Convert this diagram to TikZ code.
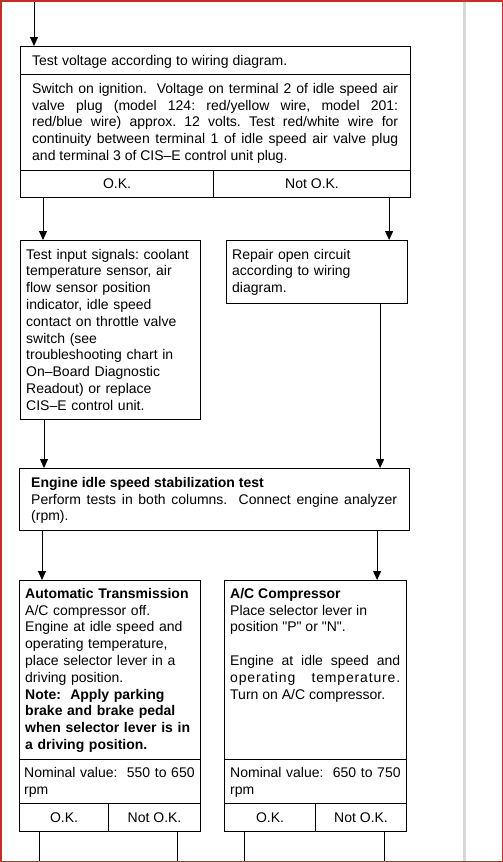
\documentclass[tikz,border=0pt]{standalone}
\usepackage{fontspec}
\setmainfont{Liberation Sans}
\usetikzlibrary{arrows.meta}
\definecolor{edgered}{RGB}{200,45,45}
\definecolor{pagegray}{RGB}{215,215,215}
\tikzset{
  frame/.style={draw, line width=1.1pt, inner sep=0pt, anchor=north west},
  cell/.style={frame, font=\fontsize{14}{16.8}\selectfont},
  txt/.style={inner sep=0pt, anchor=base west, font=\fontsize{14}{16.8}\selectfont\frenchspacing},
  arr/.style={line width=0.9pt, -{Triangle[width=8pt,length=9pt]}},
  wire/.style={line width=0.9pt}
}
\begin{document}
\begin{tikzpicture}[x=1pt,y=-1pt]
\useasboundingbox (0,0) rectangle (503,862);
\fill[pagegray] (462.5,0) rectangle (466,862);
\coordinate (in) at (34,0);
\coordinate (bot) at (0,862);

\node[frame, minimum width=390pt, minimum height=28pt] (volt) at (20,46) {};
\node[frame, minimum width=390pt, minimum height=96pt] (voltbody) at (20,74) {};
\node[cell, minimum width=193pt, minimum height=27pt] (voltok) at (20,170) {O.K.};
\node[cell, minimum width=197pt, minimum height=27pt] (voltnok) at (213,170) {Not O.K.};
\node[txt] (volttxt) at (32,65) {\makebox[255pt][s]{Test voltage according to wiring diagram.}};
\node[txt, text width=366pt, align=justify] (voltbodytxt) at (32,93.3) {Switch on ignition.\ \ Voltage on terminal 2 of idle speed air\linebreak valve plug (model 124: red/yellow wire, model 201:\linebreak red/blue wire) approx. 12 volts. Test red/white wire for\linebreak continuity between terminal 1 of idle speed air valve plug\linebreak and terminal 3 of CIS--E control unit plug.};

\node[frame, minimum width=180pt, minimum height=179pt] (sig) at (20,240) {};
\node[txt, text width=172pt, align=left] (sigtxt) at (26,259) {Test input signals: coolant\\ temperature sensor, air\\ flow sensor position\\ indicator, idle speed\\ contact on throttle valve\\ switch (see\\ troubleshooting chart in\\ On--Board Diagnostic\\ Readout) or replace\\ CIS--E control unit.};
\node[frame, minimum width=181pt, minimum height=63pt] (repair) at (226,240) {};
\node[txt, text width=172pt, align=left] (repairtxt) at (232,259) {Repair open circuit\\ according to wiring\\ diagram.};

\node[frame, minimum width=390pt, minimum height=62pt] (eng) at (19,468) {};
\node[txt, text width=366pt, align=justify] (engtxt) at (31,487.3) {{\bfseries Engine idle speed stabilization test}\\ Perform tests in both columns.\ \ Connect engine analyzer\linebreak (rpm).};

\node[frame, minimum width=181pt, minimum height=179pt] (auto) at (19,580) {};
\node[frame, minimum width=181pt, minimum height=44pt] (autonom) at (19,759) {};
\node[cell, minimum width=89pt, minimum height=28pt] (autook) at (19,803) {O.K.};
\node[cell, minimum width=92pt, minimum height=28pt] (autonok) at (108,803) {Not O.K.};
\node[txt, text width=172pt, align=left] (autotxt) at (25,598.3) {{\bfseries Automatic Transmission}\\ A/C compressor off.\\ Engine at idle speed and\\ operating temperature,\\ place selector lever in a\\ driving position.\\ {\bfseries Note:\ \ Apply parking}\\ {\bfseries brake and brake pedal}\\ {\bfseries when selector lever is in}\\ {\bfseries a driving position.}};
\node[txt, text width=172pt, align=left] (autonomtxt) at (24,777.3) {Nominal value:\ \ 550 to 650\\ rpm};

\node[frame, minimum width=182pt, minimum height=179pt] (ac) at (224,580) {};
\node[frame, minimum width=182pt, minimum height=44pt] (acnom) at (224,759) {};
\node[cell, minimum width=91pt, minimum height=28pt] (acok) at (224,803) {O.K.};
\node[cell, minimum width=91pt, minimum height=28pt] (acnok) at (315,803) {Not O.K.};
\node[txt, text width=170pt, align=justify] (actxt) at (230,598.3) {{\bfseries A/C Compressor}\\ Place selector lever in\\ position \textquotedbl P\textquotedbl{} or \textquotedbl N\textquotedbl.\\[16.8pt] Engine at idle speed and\linebreak {\addfontfeature{LetterSpace=6}operating temperature.}\linebreak Turn on A/C compressor.};
\node[txt, text width=172pt, align=left] (acnomtxt) at (230,777.3) {Nominal value:\ \ 650 to 750\\ rpm};

\draw[arr] (in) -- (in |- volt.north);
\draw[arr] ([xshift=23pt]voltok.south west) coordinate (a1) -- (a1 |- sig.north);
\draw[arr] ([xshift=-22pt]voltnok.south east) coordinate (a2) -- (a2 |- repair.north);
\draw[arr] ([xshift=24pt]sig.south west) coordinate (a3) -- (a3 |- eng.north);
\draw[arr] ([xshift=-28pt]repair.south east) coordinate (a4) -- (a4 |- eng.north);
\draw[arr] ([xshift=23pt]eng.south west) coordinate (a5) -- (a5 |- auto.north);
\draw[arr] ([xshift=-33pt]eng.south east) coordinate (a6) -- (a6 |- ac.north);
\draw[wire] ([xshift=20pt]autook.south west) coordinate (b1) -- (b1 |- bot);
\draw[wire] ([xshift=69pt]autonok.south west) coordinate (b2) -- (b2 |- bot);
\draw[wire] ([xshift=20pt]acok.south west) coordinate (b3) -- (b3 |- bot);
\draw[wire] ([xshift=69pt]acnok.south west) coordinate (b4) -- (b4 |- bot);

\draw[edgered, line width=1.5pt] (0.75,0.75) rectangle (502.25,861.25);
\end{tikzpicture}
\end{document}
